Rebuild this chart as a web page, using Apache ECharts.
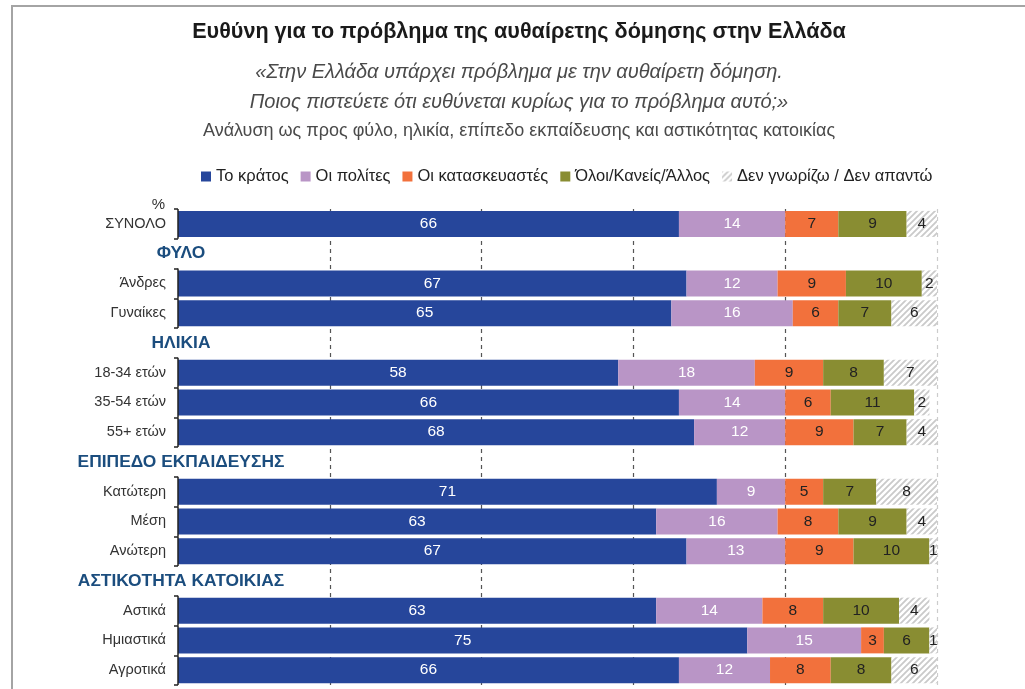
<!DOCTYPE html>
<html>
<head>
<meta charset="utf-8">
<script src="https://cdn.jsdelivr.net/npm/echarts@6/dist/echarts.min.js"></script>
<style>
  html, body { margin: 0; padding: 0; background: #fff; }
  #wrap { position: relative; width: 1025px; height: 689px; }
  #chart { position: absolute; left: 0; top: 0; width: 1025px; height: 689px; }
  #frame { position: absolute; left: 11px; top: 5px; right: 0; bottom: 0;
           border-top: 2px solid #a4a4a4; border-left: 2px solid #a4a4a4; pointer-events: none; }
</style>
</head>
<body>
<div id="wrap"><div id="chart"></div><div id="frame"></div></div>
<script>
const categories = ['ΣΥΝΟΛΟ', 'ΦΥΛΟ', 'Άνδρες', 'Γυναίκες', 'ΗΛΙΚΙΑ', '18-34 ετών', '35-54 ετών', '55+ ετών',
  'ΕΠΙΠΕΔΟ ΕΚΠΑΙΔΕΥΣΗΣ', 'Κατώτερη', 'Μέση', 'Ανώτερη', 'ΑΣΤΙΚΟΤΗΤΑ ΚΑΤΟΙΚΙΑΣ', 'Αστικά', 'Ημιαστικά', 'Αγροτικά'];
const headers = ['ΦΥΛΟ', 'ΗΛΙΚΙΑ', 'ΕΠΙΠΕΔΟ ΕΚΠΑΙΔΕΥΣΗΣ', 'ΑΣΤΙΚΟΤΗΤΑ ΚΑΤΟΙΚΙΑΣ'];
const seriesNames = ['Το κράτος', 'Οι πολίτες', 'Οι κατασκευαστές', 'Όλοι/Κανείς/Άλλος', 'Δεν γνωρίζω / Δεν απαντώ'];
const state     = [66, null, 67, 65, null, 58, 66, 68, null, 71, 63, 67, null, 63, 75, 66];
const citizens  = [14, null, 12, 16, null, 18, 14, 12, null,  9, 16, 13, null, 14, 15, 12];
const builders  = [ 7, null,  9,  6, null,  9,  6,  9, null,  5,  8,  9, null,  8,  3,  8];
const allOthers = [ 9, null, 10,  7, null,  8, 11,  7, null,  7,  9, 10, null, 10,  6,  8];
const dontKnow  = [ 4, null,  2,  6, null,  7,  2,  4, null,  8,  4,  1, null,  4,  1,  6];
const xTicks = [0, 20, 40, 60, 80, 100];

// diagonal hatch for "don't know"
const hatch = document.createElement('canvas');
hatch.width = 6; hatch.height = 6;
const hc = hatch.getContext('2d');
hc.fillStyle = '#fff'; hc.fillRect(0, 0, 6, 6);
hc.strokeStyle = '#cacaca'; hc.lineWidth = 1.8;
hc.beginPath();
hc.moveTo(-1, 7); hc.lineTo(7, -1);
hc.moveTo(-4, 4); hc.lineTo(4, -4);
hc.moveTo(2, 10); hc.lineTo(10, 2);
hc.stroke();

const colors = ['#26469b', '#b995c6', '#f2713c', '#898d32', { image: hatch, repeat: 'repeat' }];
const labelColors = ['#fff', '#fff', '#222', '#222', '#222'];
const values = [state, citizens, builders, allOthers, dontKnow];

const chart = echarts.init(document.getElementById('chart'), null, { renderer: 'canvas' });

const barSeries = values.map((vals, i) => ({
  name: seriesNames[i],
  type: 'bar',
  stack: 'total',
  barWidth: 26,
  data: vals,
  itemStyle: { color: colors[i] },
  label: {
    show: true, position: 'inside', color: labelColors[i],
    fontSize: 15.5,
    formatter: p => (p.value == null ? '' : p.value)
  }
}));

// axis line segments only beside the data rows
const axisRows = categories.map((c, i) => i).filter(i => !headers.includes(categories[i])).map(i => [0, i]);

const heading = (text, y, font) => ({
  type: 'text', x: 519, y: y,
  style: { text: text, font: font, fill: '#4a4a4a', align: 'center', verticalAlign: 'middle' }
});

chart.setOption({
  animation: false,
  textStyle: { fontFamily: 'Liberation Sans, Arial' },
  graphic: [
    Object.assign(heading('Ευθύνη για το πρόβλημα της αυθαίρετης δόμησης στην Ελλάδα', 32, 'bold 21.6px Liberation Sans, Arial'), {}),
    heading('«Στην Ελλάδα υπάρχει πρόβλημα με την αυθαίρετη δόμηση.', 72, 'italic 20px Liberation Sans, Arial'),
    heading('Ποιος πιστεύετε ότι ευθύνεται κυρίως για το πρόβλημα αυτό;»', 102, 'italic 20px Liberation Sans, Arial'),
    heading('Ανάλυση ως προς φύλο, ηλικία, επίπεδο εκπαίδευσης και αστικότητας κατοικίας', 131, '18px Liberation Sans, Arial')
  ].map((g, i) => (i === 0 ? Object.assign(g, { style: Object.assign(g.style, { fill: '#1a1a1a' }) }) : g)),
  legend: {
    data: seriesNames, left: 196, top: 163, icon: 'rect', itemWidth: 10, itemHeight: 10, itemGap: 12,
    textStyle: { fontSize: 16.5, color: '#222' }
  },
  grid: { left: 178, right: 88, top: 209, height: 476, containLabel: false },
  xAxis: {
    type: 'value', min: xTicks[0], max: xTicks[xTicks.length - 1], interval: xTicks[1] - xTicks[0],
    axisLine: { show: false }, axisTick: { show: false }, axisLabel: { show: false },
    splitLine: { show: true, lineStyle: { type: [4, 4], width: 1.2, color: ['rgba(0,0,0,0)', '#555', '#555', '#555', '#555', '#ccc'] } }
  },
  yAxis: {
    type: 'category', inverse: true,
    data: categories.map(c => headers.includes(c)
      ? { value: c, textStyle: { fontWeight: 'bold', fontSize: 17.4, color: '#1b4d7e', align: 'center', padding: [0, 0, 0, 30] } }
      : c),
    name: '%', nameLocation: 'start', nameGap: -3,
    nameTextStyle: { fontSize: 15, color: '#333', align: 'right', padding: [0, 13, 0, 0] },
    axisLine: { show: false },
    axisTick: { show: true, length: 4, lineStyle: { color: '#222', width: 1.5 } },
    axisLabel: { margin: 12, fontSize: 14.5, color: '#333', interval: 0 }
  },
  series: [
    ...barSeries,
    {
      type: 'custom', silent: true, z: 5, data: axisRows,
      renderItem: (params, api) => {
        const p = api.coord([0, api.value(1)]);
        const h = api.size([0, 1])[1];
        return { type: 'line', shape: { x1: p[0], y1: p[1] - h / 2, x2: p[0], y2: p[1] + h / 2 }, style: { stroke: '#222', lineWidth: 1.5 } };
      }
    }
  ]
});
</script>
</body>
</html>
